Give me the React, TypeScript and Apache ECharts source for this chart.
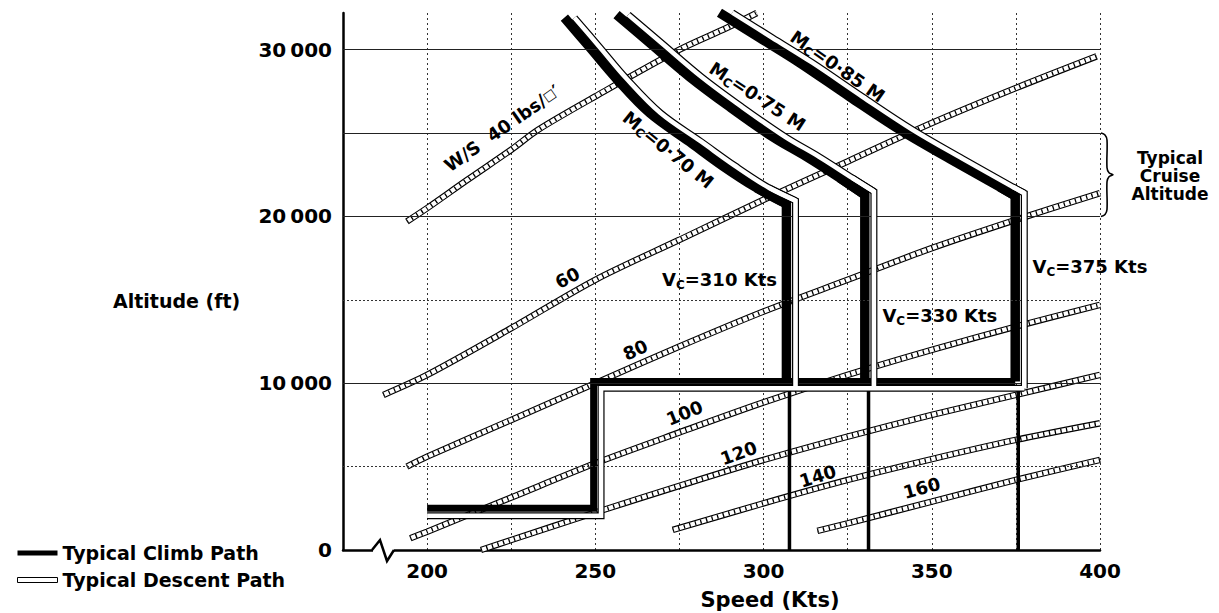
import React, { useEffect, useRef } from 'react';
import * as echarts from 'echarts';

const FONT = 'DejaVu Sans';

// ---- axes ----
const X_MIN = 175, X_MAX = 400, X_STEP = 25;
const Y_MIN = 0, Y_MAX = 32200, Y_STEP = 5000;
const xLabelValues = [200, 250, 300, 350, 400];
const yLabelValues = [0, 10000, 20000, 30000];
const gridSolid = [10000, 20000, 25000, 30000];
const gridDotted = [5000, 15000];

// ---- wing loading lines W/S (speed kts, altitude ft) ----
const ws40 = [[194, 19700], [200, 20500], [212, 22200], [225, 24000], [233, 25200], [250, 27200], [275, 30000], [289, 31300], [298, 32200]];
const ws60 = [[187, 9300], [200, 10500], [225, 13300], [250, 16200], [275, 18600], [300, 21000], [325, 23300], [350, 25600], [375, 27700], [399, 29600]];
const ws80 = [[194, 5000], [200, 5600], [225, 7800], [250, 10000], [275, 12200], [300, 14300], [325, 16200], [350, 18100], [375, 19800], [400, 21400]];
const ws100 = [[195, 700], [200, 1100], [225, 3150], [250, 5200], [275, 7050], [300, 8850], [325, 10500], [350, 12000], [375, 13400], [400, 14700]];
const ws120 = [[216, 0], [225, 600], [250, 2250], [275, 3850], [300, 5400], [325, 6800], [350, 8100], [375, 9300], [400, 10500]];
const ws140 = [[273, 1200], [300, 2800], [325, 4200], [350, 5450], [375, 6600], [400, 7600]];
const ws160 = [[316, 1150], [325, 1600], [350, 2900], [375, 4200], [400, 5400]];
const wsLines = [ws40, ws60, ws80, ws100, ws120, ws140, ws160];

// ---- typical climb path ----
const climbLow = [[200, 2500], [249.5, 2500], [249.5, 10100], [374.8, 10100]];
const climbM70 = [[240.8, 31920], [248.2, 30180], [256.3, 28260], [266.1, 26220], [278, 24480], [287.8, 23040], [297.9, 21720], [306.8, 20760], [306.8, 10100]];
const climbM75 = [[256.3, 32100], [266.1, 30420], [278, 28380], [289.9, 26580], [302.7, 24780], [312.8, 23580], [322.6, 22320], [330.1, 21300], [330.1, 10100]];
const climbM85 = [[286.9, 32220], [298.8, 30720], [310.7, 29220], [325.6, 27180], [340.5, 25200], [355.4, 23460], [370.2, 21780], [374.8, 21240], [374.8, 10100]];

// ---- typical descent path ----
const descentLow = [[377.5, 9700], [251.7, 9700], [251.7, 2050], [200, 2050]];
const descentM70 = [[243.8, 31920], [251.2, 30180], [259.3, 28260], [269.3, 26220], [281.5, 24480], [291.5, 23040], [301.6, 21720], [309.5, 20950], [309.5, 9700]];
const descentM75 = [[259.8, 32100], [269.6, 30420], [281.5, 28380], [293.5, 26580], [306.4, 24780], [316.5, 23580], [326.3, 22320], [332.8, 21500], [332.8, 9700]];
const descentM85 = [[290.7, 32220], [302.6, 30720], [314.5, 29220], [329.4, 27180], [344.3, 25200], [359.2, 23460], [374, 21780], [377.5, 21400], [377.5, 9700]];

// ---- constant Vc reference verticals below 10 000 ft ----
const vcRefSpeeds = [307.7, 331.2, 375.7];
const vcRefAlt = [9700, 0];

// ---- annotations (anchored in data coordinates) ----
const curveLabels = [
  { text: 'W/S  40 lbs/{q|□}′', s: 222.3, a: 25300, rot: 35 },
  { text: '60', s: 241.7, a: 16320, rot: 27 },
  { text: '80', s: 261.9, a: 12000, rot: 25 },
  { text: '100', s: 276.5, a: 8220, rot: 22 },
  { text: '120', s: 292.6, a: 5820, rot: 20 },
  { text: '140', s: 316.1, a: 4440, rot: 17 },
  { text: '160', s: 347, a: 3720, rot: 15 },
  { text: 'M{s|C}=0·70 M', s: 271.7, a: 24000, rot: -39 },
  { text: 'M{s|C}=0·75 M', s: 298.2, a: 27200, rot: -33 },
  { text: 'M{s|C}=0·85 M', s: 322, a: 29000, rot: -35 },
  { text: 'V{s|C}=310 Kts', s: 286.9, a: 16200, rot: 0 },
  { text: 'V{s|C}=330 Kts', s: 352.4, a: 14040, rot: 0 },
  { text: 'V{s|C}=375 Kts', s: 397, a: 16980, rot: 0 },
];
const cruiseLines = ['Typical', 'Cruise', 'Altitude'];
const CLIMB = 'Typical Climb Path';
const DESCENT = 'Typical Descent Path';

export default function App() {
  const ref = useRef<HTMLDivElement | null>(null);

  useEffect(() => {
    if (!ref.current) return;
    const chart = echarts.init(ref.current, null, { renderer: 'svg' });
    const series: any[] = [];

    // grid lines (horizontal)
    series.push({
      type: 'line', name: 'grid', data: [[X_MIN, Y_MIN]], symbol: 'none', silent: true, z: 1,
      lineStyle: { width: 0 },
      markLine: {
        silent: true, symbol: 'none', label: { show: false },
        data: [
          ...gridSolid.map((v) => ({ yAxis: v, lineStyle: { color: '#222', width: 1.2, type: 'solid' } })),
          ...gridDotted.map((v) => ({ yAxis: v, lineStyle: { color: '#333', width: 1, type: [2, 2] } })),
        ],
      },
    });

    // W/S hatched lines
    wsLines.forEach((d, i) => {
      const base = { type: 'line', data: d, smooth: 0.3, symbol: 'none', silent: true, z: 2, name: 'ws' + i };
      series.push({ ...base, lineStyle: { color: '#000', width: 6.5, cap: 'butt' } });
      series.push({ ...base, lineStyle: { color: '#fff', width: 4.3, cap: 'butt' } });
      series.push({ ...base, lineStyle: { color: '#000', width: 4.3, cap: 'butt', type: [1.3, 4.5] } });
    });

    // Vc reference verticals
    vcRefSpeeds.forEach((s, i) => {
      series.push({
        type: 'line', name: 'vc' + i, data: vcRefAlt.map((a) => [s, a]), symbol: 'none', silent: true, z: 3,
        lineStyle: { color: '#000', width: 3.5 },
      });
    });

    // split a Mach path into smooth curve + straight knee/vertical part
    const parts = (d: number[][], smooth: boolean) =>
      smooth ? [{ data: d.slice(0, -1), smooth: 0.35 }, { data: d.slice(-3), smooth: false }] : [{ data: d, smooth: false }];

    // climb
    [climbLow, climbM70, climbM75, climbM85].forEach((d, i) => {
      parts(d, i > 0).forEach((p) => {
        series.push({
          type: 'line', name: CLIMB, data: p.data, smooth: p.smooth, symbol: 'none', silent: true, z: 4,
          lineStyle: { color: '#000', width: i === 0 ? 7 : 9.5, cap: 'butt', join: 'miter' },
        });
      });
    });

    // descent (hollow)
    const descents = [descentLow, descentM70, descentM75, descentM85];
    [['#000', 7], ['#fff', 4.6]].forEach(([color, width]) => {
      descents.forEach((d, i) => {
        parts(d, i > 0).forEach((p) => {
          series.push({
            type: 'line', name: DESCENT, data: p.data, smooth: p.smooth, symbol: 'none', silent: true, z: 5,
            lineStyle: { color, width, cap: 'butt', join: 'miter' },
          });
        });
      });
    });

    chart.setOption({
      animation: false,
      backgroundColor: '#fff',
      textStyle: { fontFamily: FONT },
      grid: { left: 343, right: 119, top: 13, bottom: 63 },
      legend: {
        orient: 'vertical', left: 12, top: 537, itemGap: 5, itemWidth: 40, itemHeight: 5,
        selectedMode: false,
        textStyle: { fontFamily: FONT, fontSize: 19, fontWeight: 'bold', color: '#000', lineHeight: 22 },
        data: [
          { name: CLIMB, icon: 'rect', itemStyle: { color: '#000', borderWidth: 0 } },
          { name: DESCENT, icon: 'rect', itemStyle: { color: '#fff', borderColor: '#000', borderWidth: 1 } },
        ],
      },
      xAxis: {
        type: 'value', min: X_MIN, max: X_MAX, interval: X_STEP,
        axisLine: { show: true, lineStyle: { color: '#000', width: 2.5 } },
        axisTick: { show: false },
        axisLabel: {
          margin: 11, color: '#000', fontFamily: FONT, fontSize: 20, fontWeight: 'bold',
          formatter: (v: number) => (xLabelValues.includes(v) ? String(v) : ''),
        },
        splitLine: { show: true, lineStyle: { color: '#333', width: 1, type: [2, 3] } },
      },
      yAxis: {
        type: 'value', min: Y_MIN, max: Y_MAX, interval: Y_STEP,
        axisLine: { show: true, lineStyle: { color: '#000', width: 2.5 } },
        axisTick: { show: false },
        axisLabel: {
          margin: 11, color: '#000', fontFamily: FONT, fontSize: 20, fontWeight: 'bold',
          formatter: (v: number) => (yLabelValues.includes(v) ? (v === 0 ? '0' : `${v / 1000}\u2009000`) : ''),
        },
        splitLine: { show: false },
      },
      series,
    });

    // annotations
    const px = (s: number, a: number) => chart.convertToPixel({ gridIndex: 0 }, [s, a]) as number[];
    const baseText = { fontFamily: FONT, fontWeight: 'bold', fill: '#000' };
    const graphics: any[] = [];
    curveLabels.forEach((l) => {
      const [x, y] = px(l.s, l.a);
      graphics.push({
        type: 'text', x, y, rotation: (l.rot * Math.PI) / 180, silent: true, z: 10,
        style: {
          ...baseText, text: l.text, fontSize: 18, lineHeight: 22, align: 'center', verticalAlign: 'middle',
          rich: {
            s: { fontFamily: FONT, fontWeight: 'bold', fontSize: 12, lineHeight: 12, verticalAlign: 'bottom', fill: '#000' },
            q: { fontFamily: FONT, fontWeight: 'bold', fontSize: 13, lineHeight: 22, fill: '#000' },
          },
        },
      });
    });

    // axis names
    graphics.push({ type: 'text', x: 113, y: 301, silent: true, style: { ...baseText, text: 'Altitude (ft)', fontSize: 19, align: 'left', verticalAlign: 'middle' } });
    graphics.push({ type: 'text', x: 770, y: 600, silent: true, style: { ...baseText, text: 'Speed (Kts)', fontSize: 21, align: 'center', verticalAlign: 'middle' } });

    // cruise altitude brace + text
    const [bx, yTop] = px(X_MAX, 25000);
    const [, yBot] = px(X_MAX, 20000);
    const yMid = (yTop + yBot) / 2;
    const x0 = bx + 1;
    graphics.push({
      type: 'polyline', silent: true, z: 10,
      shape: {
        points: [[x0, yTop], [x0 + 4, yTop + 2], [x0 + 6, yTop + 7], [x0 + 6, yMid - 7], [x0 + 8, yMid - 2], [x0 + 12, yMid],
          [x0 + 8, yMid + 2], [x0 + 6, yMid + 7], [x0 + 6, yBot - 7], [x0 + 4, yBot - 2], [x0, yBot]],
        smooth: 0.35,
      },
      style: { stroke: '#000', lineWidth: 1.6, fill: null },
    });
    cruiseLines.forEach((t, i) => {
      graphics.push({
        type: 'text', x: 1170, y: yMid + 1 + (i - 1) * 18, silent: true,
        style: { ...baseText, text: t, fontSize: 17, align: 'center', verticalAlign: 'middle' },
      });
    });

    // axis break
    const [ox, oy] = px(X_MIN, Y_MIN);
    graphics.push({ type: 'rect', silent: true, z: 10, shape: { x: ox + 30, y: oy - 3, width: 21, height: 6 }, style: { fill: '#fff' } });
    graphics.push({
      type: 'polyline', silent: true, z: 11,
      shape: { points: [[ox + 29, oy], [ox + 37, oy - 10], [ox + 44, oy + 11], [ox + 51, oy]] },
      style: { stroke: '#000', lineWidth: 2.5, fill: null },
    });

    chart.setOption({ graphic: graphics });

    return () => chart.dispose();
  }, []);

  return <div ref={ref} style={{ position: 'fixed', left: 0, top: 0, width: 1219, height: 613, background: '#fff' }} />;
}
